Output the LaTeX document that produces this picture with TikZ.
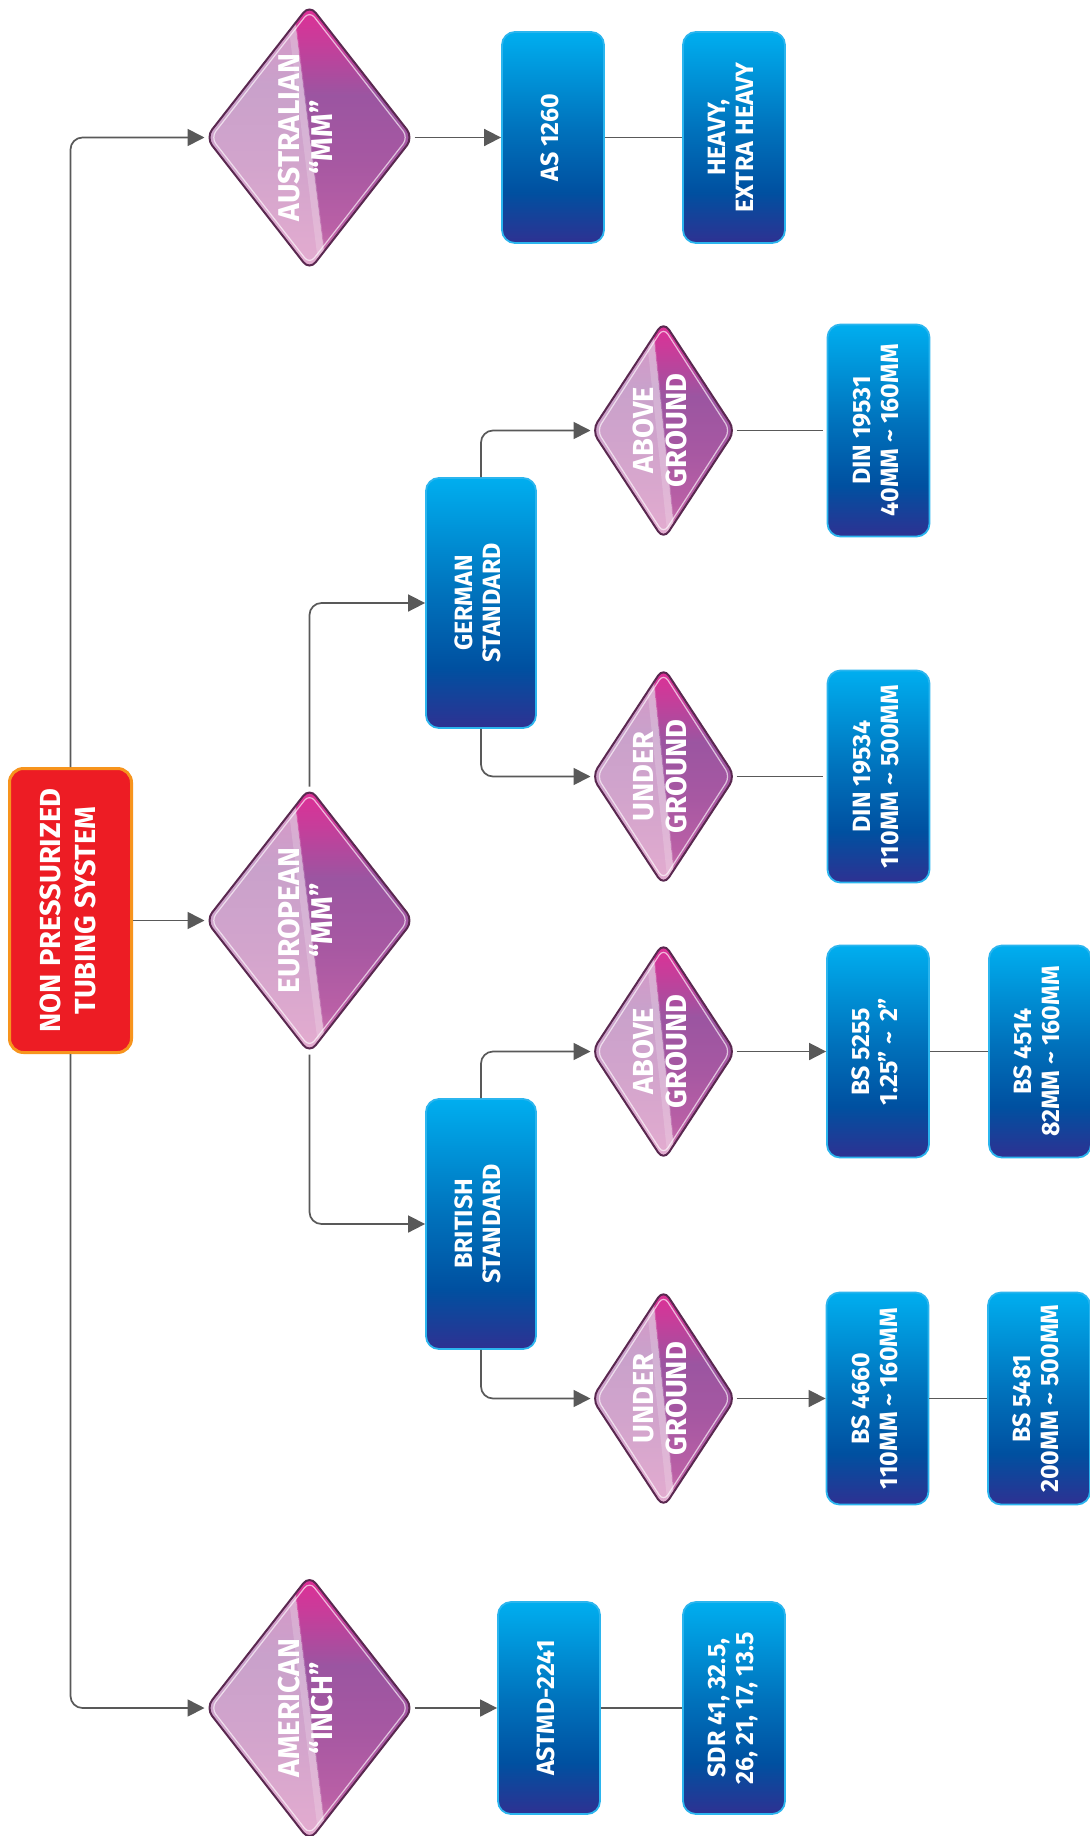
\documentclass[tikz,border=0pt]{standalone}
\usepackage{fontspec}
\setmainfont{Fira Sans}
\usepackage{graphicx}
\usetikzlibrary{shapes.geometric,arrows.meta,calc}

\definecolor{rootred}{HTML}{ED1C24}
\definecolor{rootorange}{HTML}{F7941D}
\definecolor{bxA}{HTML}{2E3192}
\definecolor{bxB}{HTML}{0050A0}
\definecolor{bxC}{HTML}{0072BC}
\definecolor{bxD}{HTML}{00AEEF}
\definecolor{bxborder}{HTML}{2BB5EE}
\definecolor{dl1}{HTML}{E4ACD0}
\definecolor{dl2}{HTML}{D2A4CC}
\definecolor{dl3}{HTML}{C9A1CB}
\definecolor{dl4}{HTML}{DA96C6}
\definecolor{dr1}{HTML}{D27DB2}
\definecolor{dr2}{HTML}{BA60A6}
\definecolor{dr3}{HTML}{A758A2}
\definecolor{dr4}{HTML}{9B55A1}
\definecolor{dr5}{HTML}{C73D9A}
\definecolor{dr6}{HTML}{E02E96}
\definecolor{diaborder}{HTML}{5A2850}
\definecolor{conn}{HTML}{595959}

\pgfdeclareverticalshading{bluebox}{100bp}{color(0bp)=(bxA); color(25bp)=(bxA); color(37bp)=(bxB); color(52bp)=(bxC); color(75bp)=(bxD); color(100bp)=(bxD)}
\pgfdeclareverticalshading{dialeft}{100bp}{color(0bp)=(dl1); color(25bp)=(dl1); color(45bp)=(dl2); color(60bp)=(dl3); color(75bp)=(dl4); color(100bp)=(dl4)}
\pgfdeclareverticalshading{diaright}{100bp}{color(0bp)=(dr1); color(25bp)=(dr1); color(33bp)=(dr2); color(45bp)=(dr3); color(58bp)=(dr4); color(68bp)=(dr5); color(75bp)=(dr6); color(100bp)=(dr6)}

\newcommand\rtext[1]{\rotatebox{90}{\begin{tabular}{@{}c@{}}#1\end{tabular}}}
\newcommand\tld{\ \textasciitilde\ }

\tikzset{
  x=0.5pt, y=-0.5pt,
  rootbox/.style={rectangle, rounded corners=7pt, fill=rootred, draw=rootorange,
    line width=1.5pt, minimum width=61pt, minimum height=142pt, inner sep=0pt,
    text=white, font=\bfseries\fontsize{14.5}{17.5}\selectfont},
  bluebox/.style={rectangle, rounded corners=6.5pt, shade, shading=bluebox,
    draw=bxborder, line width=0.9pt, minimum width=51pt, minimum height=#1,
    inner sep=0pt, text=white, font=\bfseries\fontsize{12.5}{14}\selectfont},
  diafill/.style={path picture={
    \path (path picture bounding box.north west) coordinate (qNW)
          (path picture bounding box.north east) coordinate (qNE)
          (path picture bounding box.south west) coordinate (qSW)
          (path picture bounding box.south east) coordinate (qSE)
          (path picture bounding box.north) coordinate (qN)
          (path picture bounding box.south) coordinate (qS)
          (path picture bounding box.east) coordinate (qE)
          (path picture bounding box.west) coordinate (qW);
    \path ($(qN)!0.16!(qNW)$) coordinate (qST) ($(qS)!0.16!(qSE)$) coordinate (qSB);
    \shade[sharp corners, shading=dialeft]
      (qNW) -- (qST) -- (qSB) -- (qSW) -- cycle;
    \shade[sharp corners, shading=diaright]
      (qST) -- (qNE) -- (qSE) -- (qSB) -- cycle;
    \draw[sharp corners, white, opacity=0.18, line width=4pt]
      ($(qST)+(-3,0)$) -- ($(qSB)+(-3,0)$);
    \draw[white, opacity=0.65, line width=0.6pt, rounded corners=4pt]
      ($(qN)+(0,6)$) -- ($(qE)+(-5,0)$) -- ($(qS)+(0,-6)$) -- ($(qW)+(5,0)$) -- cycle;
  }},
  bigdia/.style={diamond, diafill, draw=diaborder, line width=1pt, rounded corners=5pt,
    minimum width=104pt, minimum height=133pt, aspect=0.78, inner sep=0pt,
    text=white, font=\bfseries\fontsize{15}{16.5}\selectfont},
  smalldia/.style={diamond, diafill, draw=diaborder, line width=1pt, rounded corners=5pt,
    minimum width=72pt, minimum height=109.5pt, aspect=0.66, inner sep=0pt,
    text=white, font=\bfseries\fontsize{14.5}{16.5}\selectfont},
  link/.style={draw=conn, line width=0.85pt, rounded corners=6pt},
  arr/.style={link, -{Triangle[length=8.5pt,width=8.5pt]}},
}

\begin{document}
\begin{tikzpicture}
\fill[white] (0,0) rectangle (1089,1836);
\useasboundingbox (0,0) rectangle (1089,1836);

% nodes
\node[rootbox] (root) at (70.5,910.5) {\rtext{NON PRESSURIZED\\TUBING SYSTEM}};

\node[bigdia] (aus) at (309.5,137.5) {\rtext{AUSTRALIAN\\“MM”}};
\node[bigdia] (eu)  at (309.5,920.5) {\rtext{EUROPEAN\\“MM”}};
\node[bigdia] (am)  at (309.5,1708) {\rtext{AMERICAN\\“INCH”}};

\node[bluebox=105.5pt] (as)    at (553,137.5) {\rtext{AS 1260}};
\node[bluebox=105.5pt] (heavy) at (734,137.5) {\rtext{HEAVY,\\EXTRA HEAVY}};

\node[bluebox=125pt, minimum width=55pt] (ger)  at (481,603)  {\rtext{GERMAN\\STANDARD}};
\node[bluebox=125pt, minimum width=55pt] (brit) at (481,1224) {\rtext{BRITISH\\STANDARD}};

\node[smalldia] (gab) at (663.5,430.5)  {\rtext{ABOVE\\GROUND}};
\node[smalldia] (gun) at (663.5,776.5)  {\rtext{UNDER\\GROUND}};
\node[smalldia] (bab) at (663.5,1051.5) {\rtext{ABOVE\\GROUND}};
\node[smalldia] (bun) at (663.5,1398.5) {\rtext{UNDER\\GROUND}};

\node[bluebox=106pt] (din1) at (878.5,430.5)  {\rtext{DIN 19531\\40MM\tld 160MM}};
\node[bluebox=106pt] (din2) at (878.5,776.5)  {\rtext{DIN 19534\\110MM\tld 500MM}};
\node[bluebox=106pt] (bs1)  at (878,1051.5)   {\rtext{BS 5255\\1.25”\tld\,2”}};
\node[bluebox=106pt] (bs2)  at (1040,1051.5)  {\rtext{BS 4514\\82MM\tld 160MM}};
\node[bluebox=106pt] (bs3)  at (877.5,1398.5) {\rtext{BS 4660\\110MM\tld 160MM}};
\node[bluebox=106pt] (bs4)  at (1039,1398.5)  {\rtext{BS 5481\\200MM\tld 500MM}};

\node[bluebox=106pt] (astm) at (549,1708) {\rtext{ASTMD-2241}};
\node[bluebox=106pt] (sdr)  at (734,1708) {\rtext{SDR 41, 32.5,\\26, 21, 17, 13.5}};

% connectors
\draw[arr] (root.north) |- (aus.west);
\draw[arr] (root.south) |- (am.west);
\draw[arr] (root.east |- eu.west) -- (eu.west);

\draw[arr] (aus.east) -- (as.west);
\draw[link] (as.east) -- (heavy.west);

\draw[arr] (eu.north) |- (ger.west);
\draw[arr] (eu.south) |- (brit.west);

\draw[arr] (ger.north) |- (gab.west);
\draw[arr] (ger.south) |- (gun.west);
\draw[link, shorten >=2pt] (gab.east) -- (din1.west);
\draw[link, shorten >=2pt] (gun.east) -- (din2.west);

\draw[arr] (brit.north) |- (bab.west);
\draw[arr] (brit.south) |- (bun.west);
\draw[arr] (bab.east) -- (bs1.west);
\draw[link] (bs1.east) -- (bs2.west);
\draw[arr] (bun.east) -- (bs3.west);
\draw[link] (bs3.east) -- (bs4.west);

\draw[arr] (am.east) -- (astm.west);
\draw[link] (astm.east) -- (sdr.west);
\end{tikzpicture}
\end{document}
